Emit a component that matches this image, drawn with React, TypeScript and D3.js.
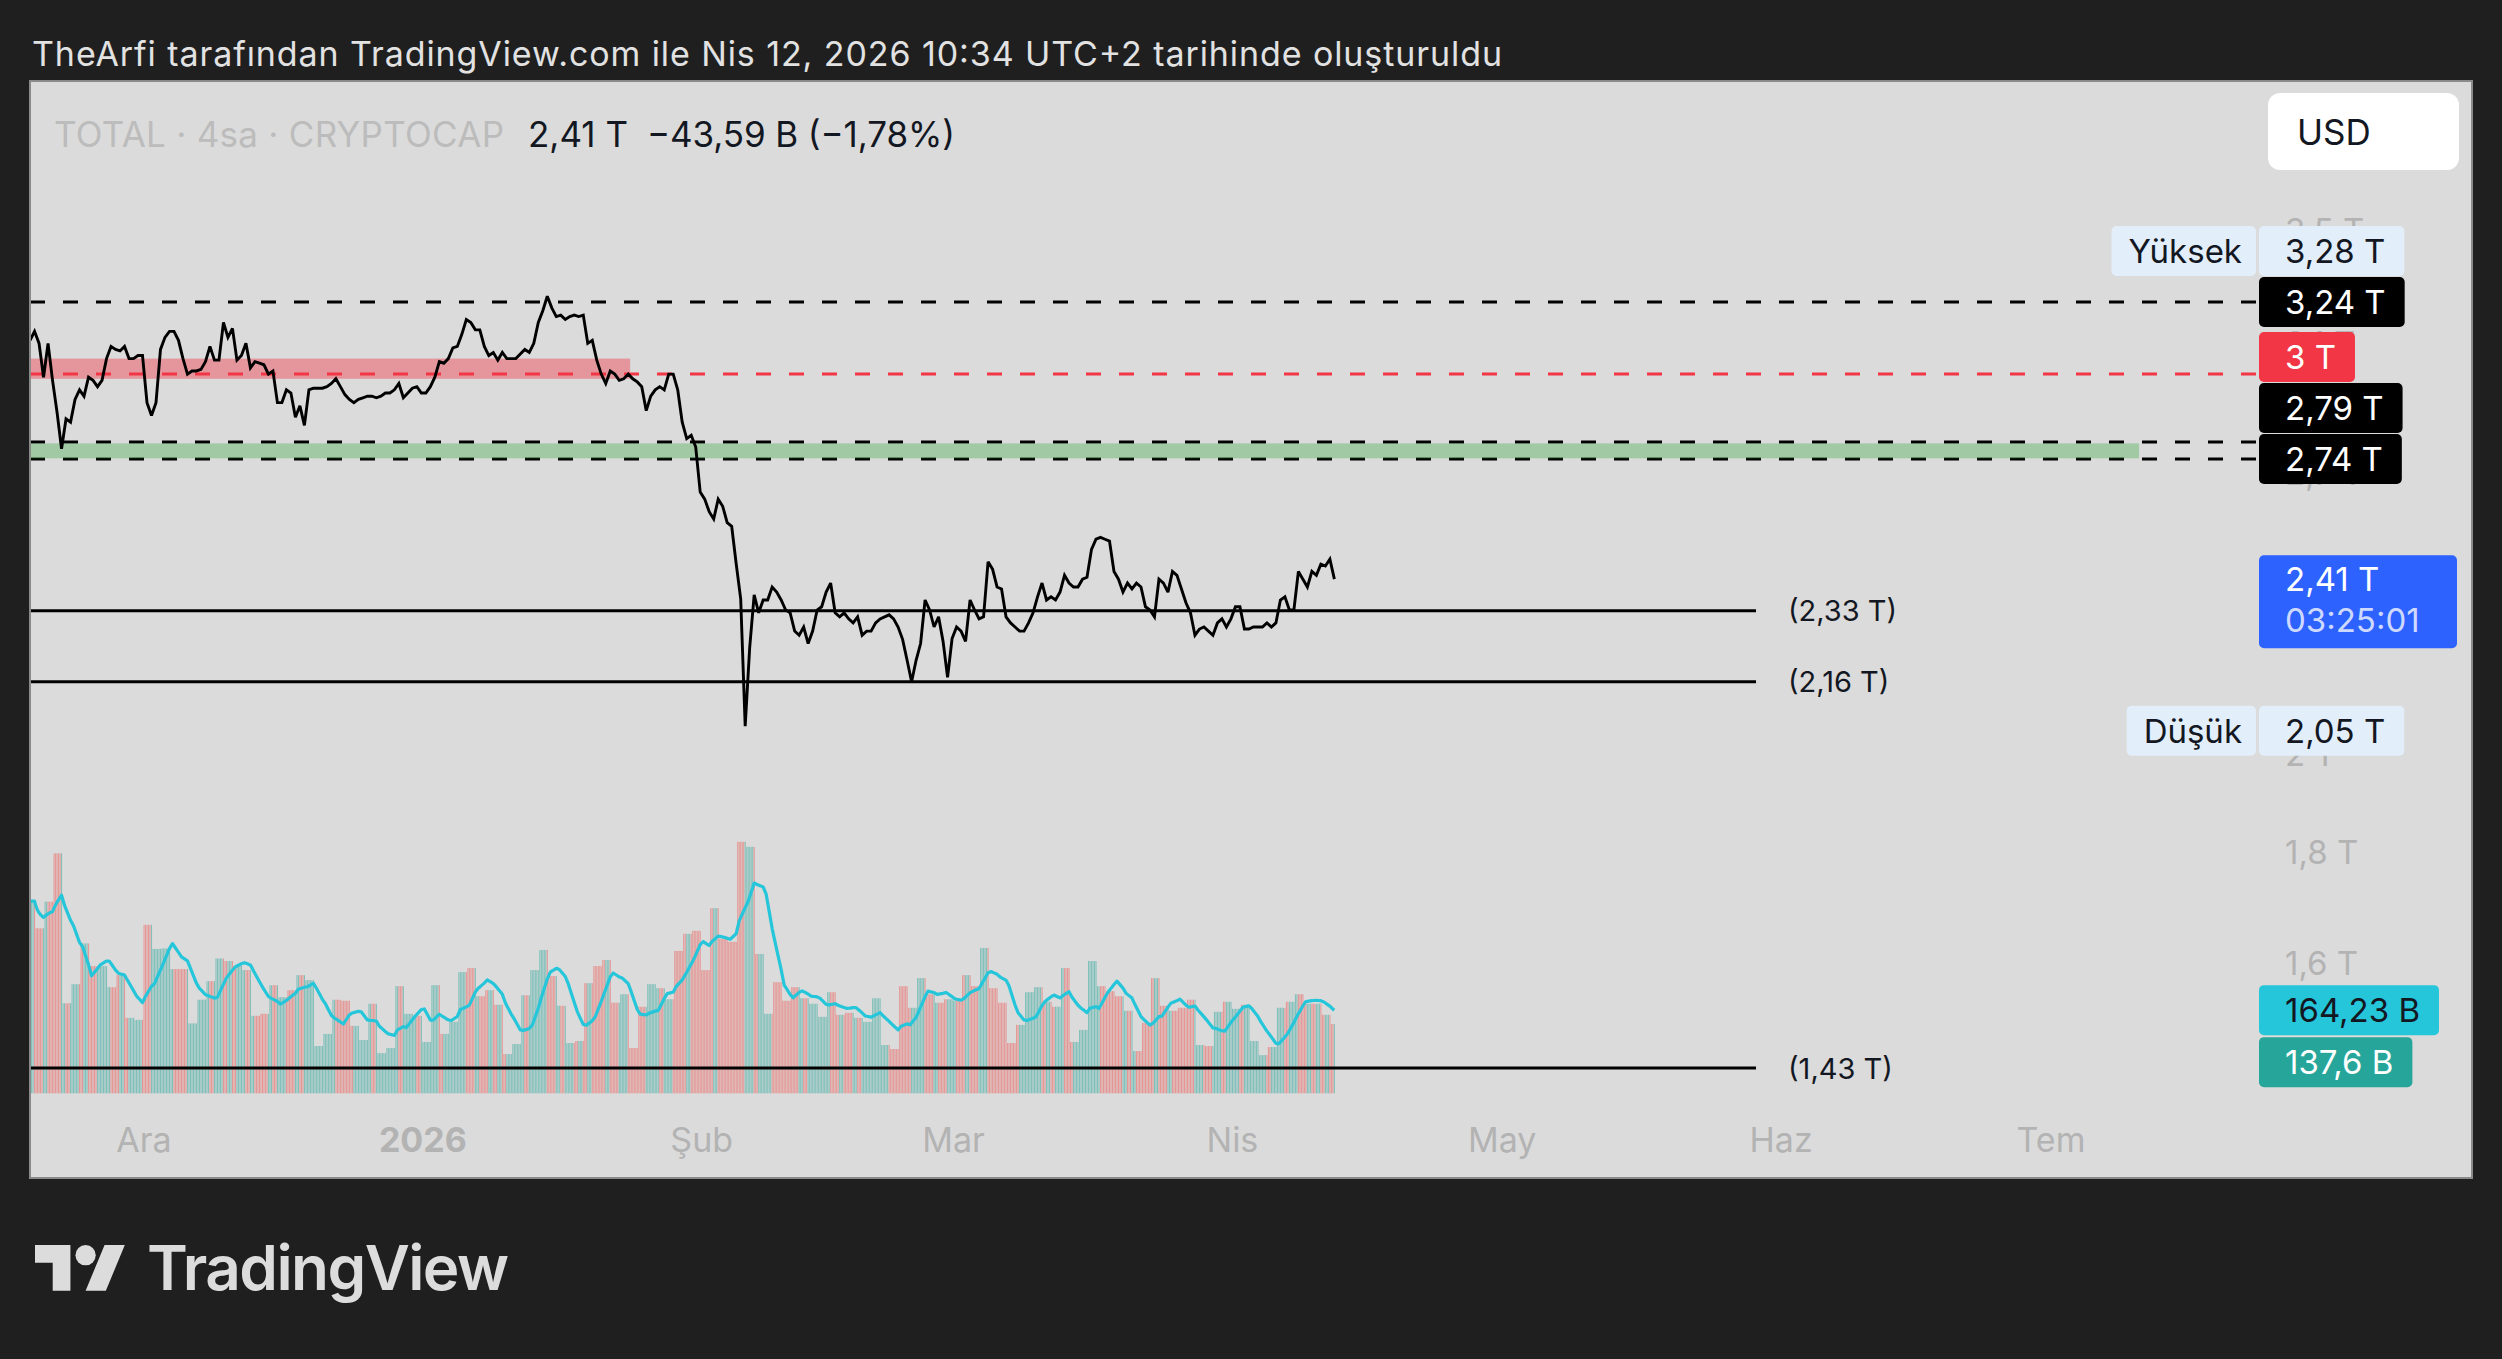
import { useEffect, useRef } from "react"
import * as d3 from "d3"

const W = 2502
const H = 1359
const HOUR = 3600 * 1000
const DAY = 24 * HOUR

// 12h closes of TOTAL (T USD), first sample Nov 18 2025 08:00 UTC
const priceStart = Date.UTC(2025, 10, 18, 8)
const closes = [
  3.11, 3.14, 3.10, 2.99, 3.10, 2.98, 2.88, 2.77, 2.86, 2.85,
  2.92, 2.95, 2.93, 2.99, 2.98, 2.96, 2.98, 3.05, 3.09, 3.08,
  3.075, 3.09, 3.05, 3.05, 3.06, 3.06, 2.91, 2.87, 2.91, 3.08,
  3.12, 3.14, 3.14, 3.11, 3.05, 3.00, 3.01, 3.01, 3.015, 3.04,
  3.09, 3.045, 3.045, 3.17, 3.12, 3.15, 3.045, 3.06, 3.10, 3.02,
  3.04, 3.035, 3.03, 3.00, 3.01, 2.91, 2.91, 2.95, 2.94, 2.865,
  2.90, 2.84, 2.95, 2.955, 2.955, 2.955, 2.96, 2.97, 2.985, 2.96,
  2.935, 2.92, 2.91, 2.92, 2.925, 2.93, 2.93, 2.925, 2.93, 2.94,
  2.94, 2.95, 2.97, 2.925, 2.94, 2.955, 2.96, 2.94, 2.94, 2.96,
  2.99, 3.04, 3.035, 3.05, 3.085, 3.09, 3.13, 3.18, 3.17, 3.145,
  3.145, 3.09, 3.06, 3.07, 3.045, 3.07, 3.05, 3.05, 3.05, 3.065,
  3.08, 3.07, 3.10, 3.17, 3.21, 3.26, 3.22, 3.19, 3.195, 3.18,
  3.19, 3.195, 3.19, 3.195, 3.10, 3.11, 3.045, 3.00, 2.97, 3.01,
  3.00, 2.98, 2.985, 3.00, 2.985, 2.975, 2.96, 2.885, 2.93, 2.95,
  2.96, 2.95, 3.00, 3.00, 2.95, 2.85, 2.80, 2.81, 2.775, 2.645,
  2.625, 2.59, 2.57, 2.625, 2.605, 2.56, 2.55, 2.45, 2.36, 2.06,
  2.24, 2.37, 2.325, 2.357, 2.357, 2.39, 2.377, 2.357, 2.332, 2.325,
  2.28, 2.27, 2.29, 2.25, 2.28, 2.332, 2.34, 2.377, 2.40, 2.325,
  2.315, 2.325, 2.31, 2.30, 2.315, 2.27, 2.28, 2.28, 2.30, 2.31,
  2.315, 2.32, 2.31, 2.29, 2.26, 2.21, 2.16, 2.21, 2.25, 2.357,
  2.332, 2.29, 2.315, 2.255, 2.17, 2.262, 2.29, 2.28, 2.255, 2.357,
  2.332, 2.31, 2.315, 2.455, 2.436, 2.39, 2.385, 2.315, 2.30, 2.29,
  2.28, 2.28, 2.30, 2.325, 2.365, 2.40, 2.357, 2.365, 2.357, 2.377,
  2.42, 2.40, 2.39, 2.39, 2.41, 2.415, 2.488, 2.515, 2.52, 2.515,
  2.51, 2.43, 2.41, 2.377, 2.40, 2.385, 2.40, 2.39, 2.34, 2.332,
  2.315, 2.41, 2.40, 2.377, 2.43, 2.42, 2.385, 2.35, 2.325, 2.27,
  2.285, 2.29, 2.28, 2.27, 2.30, 2.31, 2.29, 2.31, 2.34, 2.34,
  2.285, 2.285, 2.29, 2.29, 2.29, 2.30, 2.29, 2.30, 2.357, 2.365,
  2.332, 2.332, 2.43, 2.41, 2.39, 2.43, 2.42, 2.449, 2.444, 2.462,
  2.41,
]

// daily volume (B USD), from Nov 18 2025
const volumeStart = Date.UTC(2025, 10, 18)
const dailyVolume = [
  382, 328, 381, 477, 179, 217, 298, 253, 253, 211,
  235, 150, 146, 335, 287, 288, 247, 247, 139, 186,
  223, 268, 263, 253, 245, 154, 158, 215, 191, 205,
  235, 225, 94, 118, 186, 184, 134, 106, 178, 80,
  90, 213, 158, 154, 102, 215, 118, 142, 241, 249,
  193, 205, 176, 78, 98, 195, 245, 285, 233, 174,
  100, 104, 219, 253, 265, 180, 197, 90, 172, 217,
  209, 187, 283, 317, 323, 245, 368, 307, 301, 500,
  490, 277, 158, 221, 184, 211, 189, 178, 152, 201,
  156, 160, 150, 142, 189, 96, 88, 213, 170, 229,
  197, 180, 187, 184, 235, 213, 289, 209, 180, 100,
  136, 201, 211, 182, 172, 249, 102, 126, 263, 213,
  203, 193, 164, 84, 140, 229, 174, 164, 170, 186,
  96, 94, 162, 182, 168, 176, 104, 76, 92, 170,
  182, 197, 178, 178, 156, 137.6,
]
const maPeriod = 20

const monthTicks = [
  Date.UTC(2025, 11, 1), Date.UTC(2026, 0, 1), Date.UTC(2026, 1, 1), Date.UTC(2026, 2, 1),
  Date.UTC(2026, 3, 1), Date.UTC(2026, 4, 1), Date.UTC(2026, 5, 1), Date.UTC(2026, 6, 1),
]
const monthLabels = ["Ara", "2026", "Şub", "Mar", "Nis", "May", "Haz", "Tem"]

const priceTicks = [3.5, 3.1, 2.7, 2.4, 2, 1.8, 1.6]
const priceTickLabels = ["3,5 T", "3,1 T", "2,7 T", "2,4 T", "2 T", "1,8 T", "1,6 T"]

const dashedLevels = [3.24, 2.79, 2.74]
const redLevel = 3.0
const solidLevels = [2.33, 2.16, 1.43]
const solidLabels = ["(2,33 T)", "(2,16 T)", "(1,43 T)"]
const solidEnd = Date.UTC(2026, 4, 29, 5)
const redZone = [2.985, 3.05]
const redZoneEnd = Date.UTC(2026, 0, 24, 1)
const greenZone = [2.742, 2.786]
const greenZoneEnd = Date.UTC(2026, 6, 10, 19)

const axisTags = [
  { value: 3.28, text: "3,28 T", kind: "high", tag: "Yüksek" },
  { value: 3.24, text: "3,24 T", kind: "level", tag: "" },
  { value: 3.0, text: "3 T", kind: "red", tag: "" },
  { value: 2.79, text: "2,79 T", kind: "level", tag: "" },
  { value: 2.74, text: "2,74 T", kind: "level", tag: "" },
]
const lowTag = { value: 2.05, text: "2,05 T", tag: "Düşük" }
const lastPriceText = "2,41 T"
const countdownText = "03:25:01"
const maText = "164,23 B"
const volText = "137,6 B"

const titleText = "TheArfi tarafından TradingView.com ile Nis 12, 2026 10:34 UTC+2 tarihinde oluşturuldu"
const symbolText = "TOTAL · 4sa · CRYPTOCAP"
const changeText = "−43,59 B (−1,78%)"

const App = () => {
  const svgRef = useRef<SVGSVGElement | null>(null)

  useEffect(() => {
    document.body.style.margin = "0"
    document.body.style.background = "#1f1f1f"
    document.body.style.overflow = "hidden"
    if (!svgRef.current) return

    const svg = d3.select(svgRef.current)
    svg.selectAll("*").remove()

    const font = "Inter, 'Noto Sans', sans-serif"
    const ink = "#131722"
    const grey = "#b3b3b3"
    const panel = { left: 30, right: 2472, top: 81, bottom: 1178 }
    const axisX = 2259

    const x = d3.scaleUtc()
      .domain([new Date(monthTicks[0]), new Date(monthTicks[monthTicks.length - 1])])
      .range([144, 2051])
    const y = d3.scaleLog().domain([3.24, 1.43]).range([302, 1068])
    const yVol = d3.scaleLinear().domain([0, 500]).range([1093.3, 841.8])

    svg.append("rect").attr("width", W).attr("height", H).attr("fill", "#1f1f1f")

    svg.append("text")
      .attr("x", 32).attr("y", 53)
      .attr("dominant-baseline", "central")
      .attr("font-family", font).attr("font-size", 34)
      .attr("fill", "#e2e2e2")
      .attr("textLength", 1470)
      .text(titleText)

    svg.append("rect")
      .attr("x", panel.left).attr("y", panel.top)
      .attr("width", panel.right - panel.left).attr("height", panel.bottom - panel.top)
      .attr("fill", "#dbdbdb").attr("stroke", "#8a8a8a").attr("stroke-width", 2)

    // legend line
    const legend = svg.append("g").attr("font-family", font).attr("font-size", 35)
    legend.append("text").attr("x", 54).attr("y", 134).attr("dominant-baseline", "central")
      .attr("fill", "#bcbcbc").attr("textLength", 450).text(symbolText)
    legend.append("text").attr("x", 528).attr("y", 134).attr("dominant-baseline", "central")
      .attr("fill", ink).text(lastPriceText)
    legend.append("text").attr("x", 647).attr("y", 134).attr("dominant-baseline", "central")
      .attr("fill", ink).attr("textLength", 308).text(changeText)

    // currency button
    svg.append("rect").attr("x", 2268).attr("y", 93).attr("width", 191).attr("height", 77)
      .attr("rx", 12).attr("fill", "#ffffff")
    svg.append("text").attr("x", 2297).attr("y", 132).attr("dominant-baseline", "central")
      .attr("font-family", font).attr("font-size", 35).attr("fill", ink).text("USD")

    // price scale ticks
    svg.append("g").selectAll("text")
      .data(priceTicks)
      .join("text")
      .attr("x", 2285)
      .attr("y", (d) => y(d))
      .attr("dominant-baseline", "central")
      .attr("font-family", font).attr("font-size", 33)
      .attr("fill", grey)
      .text((d, i) => priceTickLabels[i])

    // plot area
    svg.append("defs").append("clipPath").attr("id", "plot-clip")
      .append("rect").attr("x", panel.left + 1).attr("y", panel.top + 1)
      .attr("width", axisX - panel.left - 1).attr("height", panel.bottom - panel.top - 2)
    const plot = svg.append("g").attr("clip-path", "url(#plot-clip)")

    // volume: daily values spread on 4h bars
    const priceTimes = closes.map((_, i) => priceStart + i * 12 * HOUR)
    const lastTime = priceTimes[priceTimes.length - 1]
    const bars: { t: number; v: number; up: boolean }[] = []
    for (let t = priceStart, j = 0; t <= lastTime; t += 4 * HOUR, j++) {
      const day = Math.floor((t - volumeStart) / DAY)
      const i = Math.floor(j / 3)
      const next = Math.min(i + 1, closes.length - 1)
      bars.push({ t, v: dailyVolume[day], up: closes[next] >= closes[i] })
    }
    plot.append("g").selectAll("rect")
      .data(bars)
      .join("rect")
      .attr("x", (d) => x(new Date(d.t)) - 0.5)
      .attr("width", 1.05)
      .attr("y", (d) => yVol(d.v))
      .attr("height", (d) => yVol(0) - yVol(d.v))
      .attr("fill", (d) => (d.up ? "rgba(38,166,154,0.5)" : "rgba(239,83,80,0.5)"))

    const ma = bars.map((d, j) => {
      const win = bars.slice(Math.max(0, j - maPeriod + 1), j + 1)
      return d3.mean(win, (b) => b.v) as number
    })
    plot.append("path")
      .attr("d", d3.line<number>().x((d, j) => x(new Date(bars[j].t))).y((d) => yVol(d))(ma))
      .attr("fill", "none").attr("stroke", "#26c6da").attr("stroke-width", 3.2)
      .attr("stroke-linejoin", "round")

    // horizontal levels
    plot.append("g").selectAll("line")
      .data(dashedLevels)
      .join("line")
      .attr("x1", panel.left).attr("x2", axisX)
      .attr("y1", (d) => y(d)).attr("y2", (d) => y(d))
      .attr("stroke", "#000").attr("stroke-width", 3).attr("stroke-dasharray", "15 18")
    plot.append("line")
      .attr("x1", panel.left).attr("x2", axisX)
      .attr("y1", y(redLevel)).attr("y2", y(redLevel))
      .attr("stroke", "#f23645").attr("stroke-width", 3).attr("stroke-dasharray", "15 18")

    const solid = plot.append("g")
    solid.selectAll("line")
      .data(solidLevels)
      .join("line")
      .attr("x1", panel.left).attr("x2", x(new Date(solidEnd)))
      .attr("y1", (d) => y(d)).attr("y2", (d) => y(d))
      .attr("stroke", "#000").attr("stroke-width", 3)
    solid.selectAll("text")
      .data(solidLevels)
      .join("text")
      .attr("x", x(new Date(solidEnd)) + 32)
      .attr("y", (d) => y(d))
      .attr("dominant-baseline", "central")
      .attr("font-family", font).attr("font-size", 29).attr("fill", ink)
      .text((d, i) => solidLabels[i])

    // zones
    plot.append("rect")
      .attr("x", panel.left).attr("width", x(new Date(redZoneEnd)) - panel.left)
      .attr("y", y(redZone[1])).attr("height", y(redZone[0]) - y(redZone[1]))
      .attr("fill", "#f23645").attr("fill-opacity", 0.42)
    plot.append("rect")
      .attr("x", panel.left).attr("width", x(new Date(greenZoneEnd)) - panel.left)
      .attr("y", y(greenZone[1])).attr("height", y(greenZone[0]) - y(greenZone[1]))
      .attr("fill", "#4caf50").attr("fill-opacity", 0.4)

    // price line
    plot.append("path")
      .attr("d", d3.line<number>().x((d, i) => x(new Date(priceTimes[i]))).y((d) => y(d))(closes))
      .attr("fill", "none").attr("stroke", "#000").attr("stroke-width", 2.9)
      .attr("stroke-linejoin", "miter").attr("stroke-miterlimit", 3)

    // price scale tags
    const tagH = 51
    const tags = svg.append("g").attr("font-family", font).attr("font-size", 33)
    const ys: number[] = []
    for (let k = axisTags.length - 1; k >= 0; k--) {
      const target = y(axisTags[k].value)
      ys[k] = k === axisTags.length - 1 ? target : Math.min(target, ys[k + 1] - tagH)
    }
    const drawTag = (cy: number, text: string, bg: string, fg: string, tag: string) => {
      const t = tags.append("text").attr("x", axisX + 26).attr("y", cy)
        .attr("dominant-baseline", "central").attr("fill", fg).text(text)
      const w = (t.node() as SVGTextElement).getComputedTextLength()
      tags.insert("rect", "text").attr("x", axisX).attr("y", cy - tagH / 2 + 0.5)
        .attr("width", w + 45).attr("height", tagH - 1).attr("rx", 5).attr("fill", bg)
      if (tag) {
        const tt = tags.append("text").attr("x", axisX - 17).attr("y", cy)
          .attr("dominant-baseline", "central").attr("text-anchor", "end").attr("fill", ink).text(tag)
        const tw = (tt.node() as SVGTextElement).getComputedTextLength()
        tags.insert("rect", "text").attr("x", axisX - 3 - tw - 31).attr("y", cy - tagH / 2 + 0.5)
          .attr("width", tw + 31).attr("height", tagH - 1).attr("rx", 5).attr("fill", "#e3eefb")
      }
    }
    axisTags.forEach((d, k) => {
      const bg = d.kind === "high" ? "#e3eefb" : d.kind === "red" ? "#f23645" : "#000000"
      const fg = d.kind === "high" ? ink : "#ffffff"
      drawTag(ys[k], d.text, bg, fg, d.tag)
    })
    drawTag(y(lowTag.value), lowTag.text, "#e3eefb", ink, lowTag.tag)

    // last price with countdown
    const lastY = y(closes[closes.length - 1])
    const lp = svg.append("g").attr("font-family", font).attr("font-size", 33)
    lp.append("rect").attr("x", axisX).attr("y", lastY - 24).attr("width", 198).attr("height", 93)
      .attr("rx", 5).attr("fill", "#2e62ff")
    lp.append("text").attr("x", axisX + 26).attr("y", lastY).attr("dominant-baseline", "central")
      .attr("fill", "#ffffff").text(lastPriceText)
    lp.append("text").attr("x", axisX + 26).attr("y", lastY + 41).attr("dominant-baseline", "central")
      .attr("fill", "#cdd9ff").text(countdownText)

    // volume scale tags
    const maY = yVol(ma[ma.length - 1])
    const volY = Math.max(yVol(bars[bars.length - 1].v), maY + 52)
    drawTag(maY, maText, "#26c6da", ink, "")
    drawTag(volY, volText, "#26a69a", "#ffffff", "")

    // time axis
    svg.append("g").selectAll("text")
      .data(monthTicks)
      .join("text")
      .attr("x", (d) => x(new Date(d)))
      .attr("y", 1139)
      .attr("text-anchor", "middle")
      .attr("dominant-baseline", "central")
      .attr("font-family", font).attr("font-size", 34)
      .attr("font-weight", (d, i) => (i === 1 ? 700 : 400))
      .attr("fill", grey)
      .text((d, i) => monthLabels[i])

    // TradingView logo
    const logo = svg.append("g").attr("fill", "#dcdcdc")
    logo.append("path")
      .attr("transform", "translate(35,1235) scale(2.53)")
      .attr("d", "M14 22H7V11H0V4h14v18zM28 22h-8l7.5-18h8L28 22z")
    logo.append("circle").attr("transform", "translate(35,1235) scale(2.53)")
      .attr("cx", 20).attr("cy", 8).attr("r", 4)
    logo.append("text").attr("x", 147).attr("y", 1290)
      .attr("font-family", font).attr("font-size", 62).attr("font-weight", 600)
      .attr("textLength", 362).text("TradingView")
  }, [])

  return (
    <svg
      ref={svgRef}
      width={W}
      height={H}
      style={{ display: "block", position: "absolute", left: 0, top: 0 }}
    />
  )
}

export default App
